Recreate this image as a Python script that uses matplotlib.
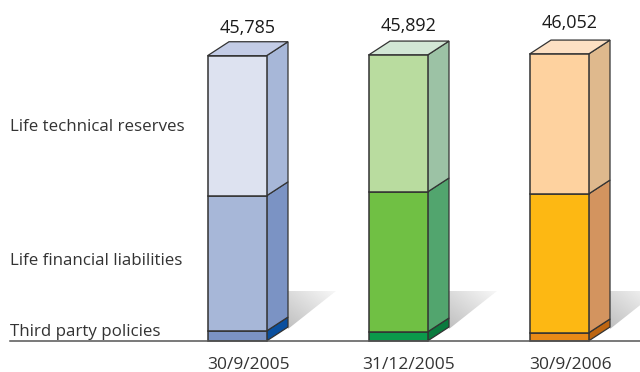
import matplotlib
matplotlib.use("Agg")
import matplotlib.pyplot as plt
import numpy as np
from matplotlib.patches import Polygon

plt.rcParams["font.family"] = ["Open Sans", "DejaVu Sans"]

DATES = ["30/9/2005", "31/12/2005", "30/9/2006"]
TOTAL_LABELS = ["45,785", "45,892", "46,052"]
THIRD_PARTY = [1600, 1450, 1290]
LIFE_FINANCIAL = [21700, 22470, 22300]
LIFE_TECHNICAL = [22485, 21972, 22462]
ROW_LABELS = ["Third party policies", "Life financial liabilities", "Life technical reserves"]
ROW_LABEL_VALUES = [1450, 12900, 34350]

# front / side colours, bottom segment first
FRONT = [
    ["#7b93c4", "#a7b7d8", "#dde2f0"],
    ["#0b9a4b", "#70c044", "#b9dc9f"],
    ["#e98a17", "#fdb813", "#fed29f"],
]
SIDE = [
    ["#0a4f9e", "#7b93c4", "#a7b7d8"],
    ["#0a7a3e", "#52a56e", "#9cc2a5"],
    ["#bd6510", "#d3945f", "#dfb98d"],
]
TOP = ["#c3cce6", "#d2e7d5", "#fde0c3"]

PX = 160.5  # data units per pixel
BAR_X = [237, 398, 559]
BAR_W = 59
TOTAL_OFFSET = [28, 29, 31]  # label height above the bar top, pixels
DX, DY = 21.5, 14 * PX
EDGE = "#333333"

fig = plt.figure(figsize=(6.4, 3.72), dpi=100)
ax = fig.add_axes([0, 0, 1, 1])
ax.set_xlim(0, 640)
ax.set_ylim(-31 * PX, 341 * PX)
ax.axis("off")

grad = np.linspace(0, 1, 120)
grad = np.add.outer(grad, grad) / 2  # fades to white toward the upper right

for i, x in enumerate(BAR_X):
    left, right = x - BAR_W / 2, x + BAR_W / 2

    # cast shadow behind the bar
    sx = right + DX
    tri = Polygon([(sx, 50 * PX), (sx + 48, 50 * PX), (sx, 12 * PX)],
                  closed=True, transform=ax.transData, fc="none", ec="none")
    ax.add_patch(tri)
    im = ax.imshow(grad, extent=(sx, sx + 48, 12 * PX, 50 * PX), origin="lower",
                   cmap="gray", vmin=-3.4, vmax=1.14, aspect="auto", zorder=1)
    im.set_clip_path(tri)

    bottom = 0
    for j, val in enumerate([THIRD_PARTY[i], LIFE_FINANCIAL[i], LIFE_TECHNICAL[i]]):
        top = bottom + val
        ax.bar(x, val, BAR_W, bottom=bottom, color=FRONT[i][j], edgecolor=EDGE,
               linewidth=1.1, zorder=3)
        ax.add_patch(Polygon([(right, bottom), (right + DX, bottom + DY),
                              (right + DX, top + DY), (right, top)], closed=True,
                             fc=SIDE[i][j], ec=EDGE, lw=0.9, zorder=2))
        bottom = top
    ax.add_patch(Polygon([(left, bottom), (left + DX, bottom + DY),
                          (right + DX, bottom + DY), (right, bottom)], closed=True,
                         fc=TOP[i], ec=EDGE, lw=0.9, zorder=2))
    ax.text(x + 10.5, bottom + TOTAL_OFFSET[i] * PX, TOTAL_LABELS[i], ha="center",
            va="center", fontsize=13, color="#1a1a1a")
    ax.text(x + 11, -24 * PX, DATES[i], ha="center", va="center", fontsize=12.5,
            color="#333333")

ax.plot([10, 640], [0, 0], color="#555555", lw=1.1, zorder=4)

for label, val in zip(ROW_LABELS, ROW_LABEL_VALUES):
    ax.text(10, val, label, ha="left", va="center", fontsize=12.2, color="#333333")

ax.set_xlim(0, 640)
ax.set_ylim(-31 * PX, 341 * PX)
fig.savefig("out.png", dpi=100, facecolor="white")
